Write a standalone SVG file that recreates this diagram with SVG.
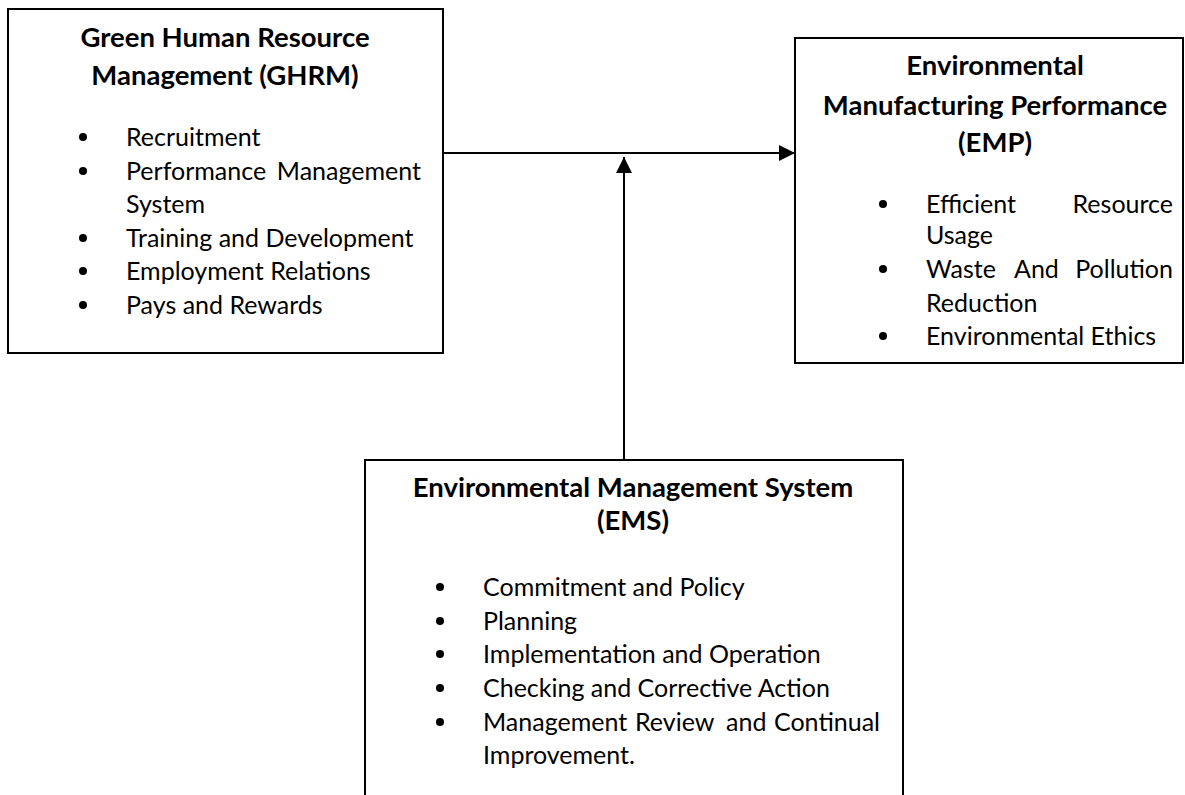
<svg xmlns="http://www.w3.org/2000/svg" width="1185" height="795" viewBox="0 0 1185 795">
<style>
.box{fill:#fff;stroke:#000;stroke-width:2}
.t{font-family:Lato,"Open Sans","Liberation Sans",sans-serif;font-weight:bold;font-size:27.5px;fill:#000;text-anchor:middle}
.i{font-family:Lato,"Open Sans","Liberation Sans",sans-serif;font-size:25px;fill:#000}
.e{text-anchor:end}
.b{fill:#000}
.c{stroke:#000;stroke-width:2;fill:none}
</style>
<defs>
<marker id="ah" markerUnits="userSpaceOnUse" markerWidth="16" markerHeight="16" refX="16" refY="8" orient="auto" viewBox="0 0 16 16">
<path d="M0,0 L16,8 L0,16 Z" fill="#000"/>
</marker>
</defs>
<rect width="1185" height="795" fill="#fff"/>
<g id="connectors">
<line class="c" x1="443" y1="153" x2="795" y2="153" marker-end="url(#ah)"/>
<line class="c" x1="624" y1="460" x2="624" y2="157" marker-end="url(#ah)"/>
</g>
<g id="ghrm">
<rect class="box" x="8" y="9" width="435" height="344"/>
<text class="t" x="225" y="47">Green Human Resource</text>
<text class="t" x="225" y="85">Management (GHRM)</text>
<circle class="b" cx="83" cy="137" r="4"/>
<circle class="b" cx="83" cy="171" r="4"/>
<circle class="b" cx="83" cy="238" r="4"/>
<circle class="b" cx="83" cy="271" r="4"/>
<circle class="b" cx="83" cy="305" r="4"/>
<text class="i" x="126" y="146">Recruitment</text>
<text class="i" y="180"><tspan x="126">Performance</tspan><tspan x="421" class="e">Management</tspan></text>
<text class="i" x="126" y="213">System</text>
<text class="i" x="126" y="247">Training and Development</text>
<text class="i" x="126" y="280">Employment Relations</text>
<text class="i" x="126" y="314">Pays and Rewards</text>
</g>
<g id="emp">
<rect class="box" x="795" y="38" width="388" height="325"/>
<text class="t" x="995" y="75">Environmental</text>
<text class="t" x="995" y="115">Manufacturing Performance</text>
<text class="t" x="995" y="152">(EMP)</text>
<circle class="b" cx="883" cy="204" r="4"/>
<circle class="b" cx="883" cy="269" r="4"/>
<circle class="b" cx="883" cy="336" r="4"/>
<text class="i" y="213"><tspan x="926">Efficient</tspan><tspan x="1173" class="e">Resource</tspan></text>
<text class="i" x="926" y="244">Usage</text>
<text class="i" y="278"><tspan x="926">Waste</tspan><tspan x="1014">And</tspan><tspan x="1173" class="e">Pollution</tspan></text>
<text class="i" x="926" y="312">Reduction</text>
<text class="i" x="926" y="345">Environmental Ethics</text>
</g>
<g id="ems">
<rect class="box" x="365" y="460" width="538" height="345"/>
<text class="t" x="633" y="497">Environmental Management System</text>
<text class="t" x="633" y="530">(EMS)</text>
<circle class="b" cx="440" cy="587" r="4"/>
<circle class="b" cx="440" cy="621" r="4"/>
<circle class="b" cx="440" cy="654" r="4"/>
<circle class="b" cx="440" cy="688" r="4"/>
<circle class="b" cx="440" cy="722" r="4"/>
<text class="i" x="483" y="596">Commitment and Policy</text>
<text class="i" x="483" y="630">Planning</text>
<text class="i" x="483" y="663">Implementation and Operation</text>
<text class="i" x="483" y="697">Checking and Corrective Action</text>
<text class="i" y="731"><tspan x="483">Management</tspan><tspan x="635">Review</tspan><tspan x="726">and</tspan><tspan x="880" class="e">Continual</tspan></text>
<text class="i" x="483" y="764">Improvement.</text>
</g>
</svg>
